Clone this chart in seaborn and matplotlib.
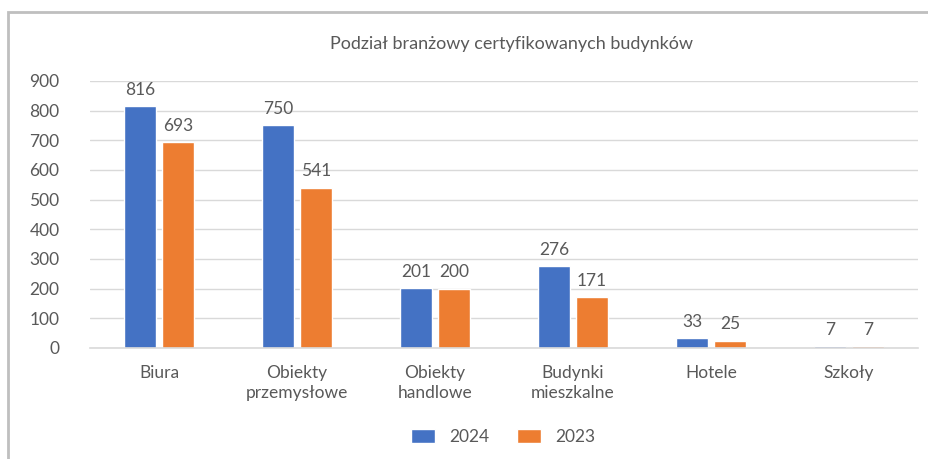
import matplotlib
matplotlib.use("Agg")
import matplotlib.pyplot as plt
import seaborn as sns
import pandas as pd
from matplotlib.patches import Rectangle

categories = ["Biura", "Obiekty\nprzemysłowe", "Obiekty\nhandlowe", "Budynki\nmieszkalne", "Hotele", "Szkoły"]
values_2024 = [816, 750, 201, 276, 33, 7]
values_2023 = [693, 541, 200, 171, 25, 7]
series = ["2024", "2023"]
yticks = [0, 100, 200, 300, 400, 500, 600, 700, 800, 900]
title = "Podział branżowy certyfikowanych budynków"

df = pd.DataFrame({
    "Kategoria": categories * 2,
    "Liczba": values_2024 + values_2023,
    "Rok": [series[0]] * len(categories) + [series[1]] * len(categories),
})

sns.set_theme(style="white")
plt.rcParams['font.family'] = ['Lato', 'DejaVu Sans']
txt = "#595959"

fig = plt.figure(figsize=(9.29, 4.59), dpi=100)
ax = fig.add_axes([90/929, 1-348/459, (918-90)/929, (348-81)/459])

sns.barplot(data=df, x="Kategoria", y="Liczba", hue="Rok", order=categories,
            hue_order=series, palette=["#4472C4", "#ED7D31"], width=0.55, gap=0.18,
            ax=ax, legend=True, saturation=1)

ax.set_ylim(0, 900)
ax.set_yticks(yticks)
ax.set_xlim(-0.5, len(categories) - 0.5)
ax.yaxis.grid(True, color="#D9D9D9", linewidth=1)
ax.set_axisbelow(True)
for s in ["left", "right", "top"]:
    ax.spines[s].set_visible(False)
ax.spines["bottom"].set_color("#D9D9D9")
ax.spines["bottom"].set_linewidth(1.2)
ax.set_xlabel("")
ax.set_ylabel("")
ax.tick_params(axis="both", length=0, labelsize=12.5, colors=txt)
ax.tick_params(axis="x", pad=12)
ax.tick_params(axis="y", pad=22)
for lbl in ax.get_xticklabels():
    lbl.set_linespacing(1.35)
for lbl in ax.get_yticklabels():
    lbl.set_horizontalalignment("right")

for cont in ax.containers:
    ax.bar_label(cont, fontsize=12.5, color=txt, padding=6)

leg = ax.legend(loc="center", bbox_to_anchor=(503/929, 1-437/459), bbox_transform=fig.transFigure,
                ncol=2, frameon=False, fontsize=12.5, handlelength=1.4, handleheight=0.8,
                columnspacing=1.6, handletextpad=0.8)
for t in leg.get_texts():
    t.set_color(txt)

fig.text(512/929, 1-44/459, title, ha="center", va="center", fontsize=13, color=txt)

fig.patches.append(Rectangle((8/929, -0.1), 1.2, 1.1 - 12/459, transform=fig.transFigure,
                             fill=False, edgecolor="#BFBFBF", linewidth=2, figure=fig))

fig.savefig("out.png", dpi=100, facecolor="white")
